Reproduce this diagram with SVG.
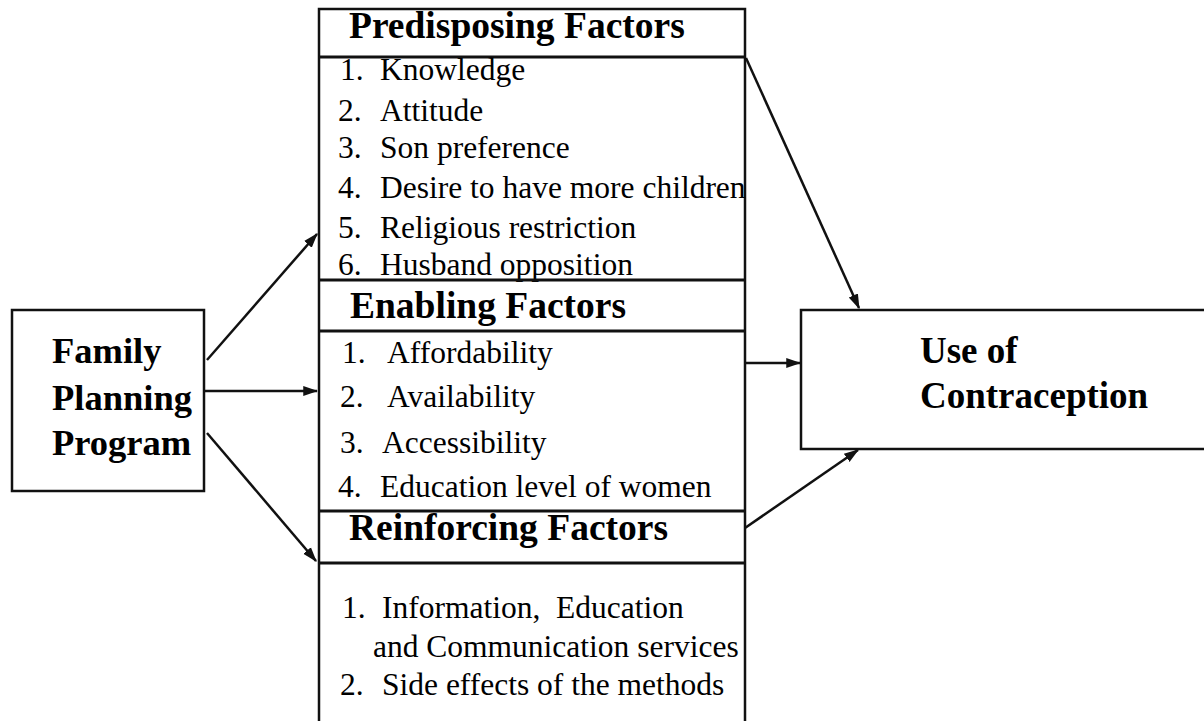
<svg xmlns="http://www.w3.org/2000/svg" width="1204" height="721" viewBox="0 0 1204 721">
  <style>
    .box { fill: #fff; stroke: #111; stroke-width: 2.5; }
    .rule { stroke: #111; stroke-width: 3; }
    .line { stroke: #111; stroke-width: 2.5; fill: none; }
    .head { font-family: "Liberation Serif", "Times New Roman", serif; font-weight: bold; font-size: 37.5px; fill: #000; }
    .use { font-family: "Liberation Serif", "Times New Roman", serif; font-weight: bold; font-size: 37px; fill: #000; }
    .big { font-family: "Liberation Serif", "Times New Roman", serif; font-weight: bold; font-size: 36.5px; fill: #000; }
    .item { font-family: "Liberation Serif", "Times New Roman", serif; font-size: 31.5px; fill: #000; }
  </style>
  <defs>
    <marker id="arrow" viewBox="0 0 12 10" refX="11" refY="5" markerWidth="6" markerHeight="5" markerUnits="strokeWidth" orient="auto">
      <path d="M0,1 L12,5 L0,9 z" fill="#111"/>
    </marker>
  </defs>
  <rect width="1204" height="721" fill="#fff"/>

  <!-- Family Planning Program -->
  <g id="family-planning">
    <rect class="box" x="12" y="310" width="192" height="181"/>
    <text class="big" x="52" y="363">Family</text>
    <text class="big" x="52" y="410">Planning</text>
    <text class="big" x="52" y="455">Program</text>
  </g>

  <!-- Factor column (open at the bottom) -->
  <g id="predisposing">
    <path class="line" d="M319,721 L319,9 L745,9 L745,721"/>
    <line class="rule" x1="319" y1="57" x2="745" y2="57"/>
    <text class="head" x="349" y="38">Predisposing Factors</text>
    <text class="item" x="340" y="80">1.</text><text class="item" x="380" y="80">Knowledge</text>
    <text class="item" x="338" y="121">2.</text><text class="item" x="380" y="121">Attitude</text>
    <text class="item" x="338" y="158">3.</text><text class="item" x="380" y="158">Son preference</text>
    <text class="item" x="338" y="198">4.</text><text class="item" x="380" y="198">Desire to have more children</text>
    <text class="item" x="338" y="238">5.</text><text class="item" x="380" y="238">Religious restriction</text>
    <text class="item" x="338" y="275">6.</text><text class="item" x="380" y="275">Husband opposition</text>
  </g>

  <g id="enabling">
    <line class="rule" x1="319" y1="280" x2="745" y2="280"/>
    <line class="rule" x1="319" y1="331" x2="745" y2="331"/>
    <text class="head" x="350" y="318">Enabling Factors</text>
    <text class="item" x="342" y="363">1.</text><text class="item" x="387" y="363">Affordability</text>
    <text class="item" x="340" y="407">2.</text><text class="item" x="387" y="407">Availability</text>
    <text class="item" x="340" y="453">3.</text><text class="item" x="382" y="453">Accessibility</text>
    <text class="item" x="338" y="497">4.</text><text class="item" x="380" y="497">Education level of women</text>
  </g>

  <g id="reinforcing">
    <line class="rule" x1="319" y1="511" x2="745" y2="511"/>
    <line class="rule" x1="319" y1="563" x2="745" y2="563"/>
    <text class="head" x="349" y="540">Reinforcing Factors</text>
    <text class="item" x="342" y="618">1.</text><text class="item" x="382" y="618" xml:space="preserve">Information,  Education</text>
    <text class="item" x="373" y="657">and Communication services</text>
    <text class="item" x="340" y="695">2.</text><text class="item" x="382" y="695">Side effects of the methods</text>
  </g>

  <!-- Use of Contraception (runs past the right edge) -->
  <g id="use-of-contraception">
    <path class="line" d="M1206,310 L801,310 L801,449 L1206,449"/>
    <text class="use" x="920" y="363">Use of</text>
    <text class="use" x="920" y="408">Contraception</text>
  </g>

  <g id="connectors">
    <line class="line" x1="207" y1="360" x2="317" y2="234" marker-end="url(#arrow)"/>
    <line class="line" x1="204" y1="391" x2="317" y2="391" marker-end="url(#arrow)"/>
    <line class="line" x1="207" y1="433" x2="316" y2="561" marker-end="url(#arrow)"/>
    <line class="line" x1="746" y1="58" x2="859" y2="308" marker-end="url(#arrow)"/>
    <line class="line" x1="745" y1="363" x2="800" y2="363" marker-end="url(#arrow)"/>
    <line class="line" x1="745" y1="528" x2="858" y2="450" marker-end="url(#arrow)"/>
  </g>
</svg>
